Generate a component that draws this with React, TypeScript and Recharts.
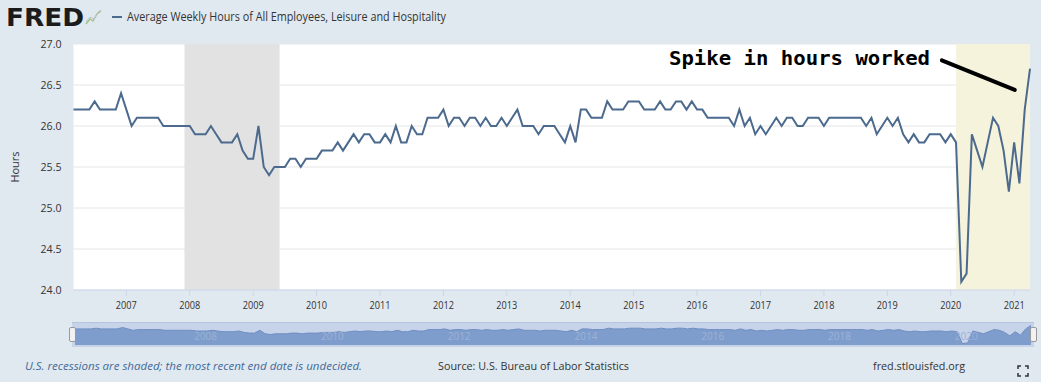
import React from "react";
import {
  LineChart,
  Line,
  XAxis,
  YAxis,
  CartesianGrid,
  ReferenceArea,
  ReferenceLine,
  AreaChart,
  Area,
} from "recharts";

// monthly series, first value is March 2006
const FIRST_YEAR = 2006;
const FIRST_MONTH = 3;

const hours2006 = [26.2, 26.2, 26.2, 26.2, 26.3, 26.2, 26.2, 26.2, 26.2, 26.4];
const hours2007 = [26.2, 26.0, 26.1, 26.1, 26.1, 26.1, 26.1, 26.0, 26.0, 26.0, 26.0, 26.0];
const hours2008 = [26.0, 25.9, 25.9, 25.9, 26.0, 25.9, 25.8, 25.8, 25.8, 25.9, 25.7, 25.6];
const hours2009 = [25.6, 26.0, 25.5, 25.4, 25.5, 25.5, 25.5, 25.6, 25.6, 25.5, 25.6, 25.6];
const hours2010 = [25.6, 25.7, 25.7, 25.7, 25.8, 25.7, 25.8, 25.9, 25.8, 25.9, 25.9, 25.8];
const hours2011 = [25.8, 25.9, 25.8, 26.0, 25.8, 25.8, 26.0, 25.9, 25.9, 26.1, 26.1, 26.1];
const hours2012 = [26.2, 26.0, 26.1, 26.1, 26.0, 26.1, 26.1, 26.0, 26.1, 26.0, 26.0, 26.1];
const hours2013 = [26.0, 26.1, 26.2, 26.0, 26.0, 26.0, 25.9, 26.0, 26.0, 26.0, 25.9, 25.8];
const hours2014 = [26.0, 25.8, 26.2, 26.2, 26.1, 26.1, 26.1, 26.3, 26.2, 26.2, 26.2, 26.3];
const hours2015 = [26.3, 26.3, 26.2, 26.2, 26.2, 26.3, 26.2, 26.2, 26.3, 26.3, 26.2, 26.3];
const hours2016 = [26.2, 26.2, 26.1, 26.1, 26.1, 26.1, 26.1, 26.0, 26.2, 26.0, 26.1, 25.9];
const hours2017 = [26.0, 25.9, 26.0, 26.1, 26.0, 26.1, 26.1, 26.0, 26.0, 26.1, 26.1, 26.1];
const hours2018 = [26.0, 26.1, 26.1, 26.1, 26.1, 26.1, 26.1, 26.1, 26.0, 26.1, 25.9, 26.0];
const hours2019 = [26.1, 26.0, 26.1, 25.9, 25.8, 25.9, 25.8, 25.8, 25.9, 25.9, 25.9, 25.8];
const hours2020 = [25.9, 25.8, 24.1, 24.2, 25.9, 25.7, 25.5, 25.8, 26.1, 26.0, 25.7, 25.2];
const hours2021 = [25.8, 25.3, 26.2, 26.7];

const hours = [
  ...hours2006, ...hours2007, ...hours2008, ...hours2009, ...hours2010, ...hours2011,
  ...hours2012, ...hours2013, ...hours2014, ...hours2015, ...hours2016, ...hours2017,
  ...hours2018, ...hours2019, ...hours2020, ...hours2021,
];

const yearTicks = [2007, 2008, 2009, 2010, 2011, 2012, 2013, 2014, 2015, 2016, 2017, 2018, 2019, 2020, 2021];
const hourTicks = [24, 24.5, 25, 25.5, 26, 26.5, 27];
const navigatorTicks = [2008, 2010, 2012, 2014, 2016, 2018, 2020];

const recessionStarts = ["2007-12", "2020-02"];
const recessionEnds = ["2009-06", null]; // latest one has no end date yet

const toYear = (ym: string) => {
  const [y, m] = ym.split("-").map(Number);
  return y + (m - 1) / 12;
};

const data = hours.map((v, i) => ({
  t: FIRST_YEAR + (FIRST_MONTH - 1 + i) / 12,
  hours: v,
}));
const lastT = data[data.length - 1].t;

const LINE_COLOR = "#4b6a8d";
const FONT = "'Open Sans', 'DejaVu Sans', sans-serif";

const XTick = (props: any) => {
  const { x, y, payload } = props;
  return (
    <text x={x} y={y + 11} textAnchor="middle" fontSize={11} fontFamily={FONT} fill="#333"
      textLength={21} lengthAdjust="spacingAndGlyphs">
      {payload.value}
    </text>
  );
};

const YTick = (props: any) => {
  const { x, y, payload } = props;
  return (
    <text x={x} y={y + 4} textAnchor="end" fontSize={11} fontFamily={FONT} fill="#333"
      textLength={21} lengthAdjust="spacingAndGlyphs">
      {payload.value.toFixed(1)}
    </text>
  );
};

const NavTick = (props: any) => {
  const { x, payload } = props;
  return (
    <text x={x + 3} y={17} fontSize={10} fontFamily={FONT} fill="#9db1d6">
      {payload.value}
    </text>
  );
};

export default function App() {
  return (
    <div style={{ position: "absolute", left: 0, top: 0, width: 1041, height: 382, background: "#e1e9f0", fontFamily: FONT }}>
      <div style={{ position: "absolute", left: 0, top: 0 }}>
        <LineChart width={1041} height={320} data={data} margin={{ top: 44, right: 11, bottom: 0, left: 0 }}>
          <CartesianGrid vertical={false} stroke="#e6e6e6" fill="#ffffff" />
          {recessionStarts.map((s, i) => (
            <ReferenceArea
              key={s}
              x1={toYear(s)}
              x2={recessionEnds[i] ? toYear(recessionEnds[i] as string) : lastT}
              fill={recessionEnds[i] ? "#e2e2e2" : "#f5f3dc"}
              fillOpacity={1}
              ifOverflow="extendDomain"
            />
          ))}
          <XAxis
            dataKey="t"
            type="number"
            domain={["dataMin", "dataMax"]}
            ticks={yearTicks}
            height={30}
            axisLine={{ stroke: "#ccd6eb" }}
            tickLine={{ stroke: "#ccd6eb" }}
            tickSize={6}
            tick={<XTick />}
          />
          <YAxis
            domain={[24, 27]}
            ticks={hourTicks}
            width={73.5}
            axisLine={false}
            tickLine={false}
            tickSize={6}
            tickMargin={6}
            tick={<YTick />}
            label={{
              content: () => (
                <text x={19} y={167} transform="rotate(-90 19 167)" textAnchor="middle"
                  fontSize={11} fontFamily={FONT} fill="#333">
                  Hours
                </text>
              ),
            }}
          />
          <Line
            type="linear"
            dataKey="hours"
            stroke={LINE_COLOR}
            strokeWidth={2}
            dot={false}
            isAnimationActive={false}
          />
          <ReferenceLine
            segment={[{ x: 2019.86, y: 26.8 }, { x: 2021.01, y: 26.44 }]}
            stroke="#000"
            strokeWidth={4}
            strokeLinecap="round"
          />
        </LineChart>
      </div>

      {/* navigator strip */}
      <div style={{ position: "absolute", left: 72, top: 322, width: 962, height: 24, background: "#c6d3e9", borderTop: "1px solid #b5c4df" }}>
        <AreaChart width={962} height={23} data={data} margin={{ top: 1, right: 3, bottom: 0, left: 3 }}>
          <XAxis
            dataKey="t"
            type="number"
            domain={["dataMin", "dataMax"]}
            ticks={navigatorTicks}
            height={1}
            axisLine={false}
            tickLine={false}
            tick={<NavTick />}
          />
          <YAxis domain={[23.9, 26.9]} hide />
          <Area
            type="linear"
            dataKey="hours"
            stroke="#6f8ec2"
            strokeWidth={1}
            fill="#7f9dcc"
            fillOpacity={1}
            isAnimationActive={false}
          />
        </AreaChart>
      </div>
      <div style={{ position: "absolute", left: 69, top: 327, width: 5, height: 13, background: "#f2f2f2", border: "1px solid #999", borderRadius: 2 }} />
      <div style={{ position: "absolute", left: 1030, top: 327, width: 5, height: 13, background: "#f2f2f2", border: "1px solid #999", borderRadius: 2 }} />

      <svg width={1041} height={382} style={{ position: "absolute", left: 0, top: 0, pointerEvents: "none" }}>
        {/* FRED logo */}
        <text x={6} y={26} fontSize={25} fontWeight={900} fontFamily="'DejaVu Sans', sans-serif" fill="#1b1b1b"
          textLength={78} lengthAdjust="spacingAndGlyphs">FRED</text>
        <polyline points="86,24 90,19 93,21 97,14 101,11" fill="none" stroke="#a9c18c" strokeWidth={1.5} />
        <polyline points="86,22 90,17 94,19 98,12 101,10" fill="none" stroke="#b9c4cf" strokeWidth={1} />
        <line x1={112} y1={17} x2={122} y2={17} stroke={LINE_COLOR} strokeWidth={2} />
        <text x={127} y={21} fontSize={12} fontFamily={FONT} fill="#333"
          textLength={319} lengthAdjust="spacingAndGlyphs">
          Average Weekly Hours of All Employees, Leisure and Hospitality
        </text>

        {/* annotation */}
        <text x={669} y={65} fontSize={20} fontWeight="bold" fontFamily="'DejaVu Sans Mono', monospace" fill="#000"
          textLength={261} lengthAdjust="spacingAndGlyphs">
          Spike in hours worked
        </text>

        {/* footer */}
        <text x={25} y={370} fontSize={11.5} fontStyle="italic" fontFamily={FONT} fill="#41699b"
          textLength={337} lengthAdjust="spacingAndGlyphs">
          U.S. recessions are shaded; the most recent end date is undecided.
        </text>
        <text x={438} y={370} fontSize={11.5} fontFamily={FONT} fill="#333"
          textLength={191} lengthAdjust="spacingAndGlyphs">
          Source: U.S. Bureau of Labor Statistics
        </text>
        <text x={873} y={370} fontSize={11.5} fontFamily={FONT} fill="#333"
          textLength={92} lengthAdjust="spacingAndGlyphs">
          fred.stlouisfed.org
        </text>
        <path d="M1018 369 v-3 h3 M1025 366 h3 v3 M1028 373 v3 h-3 M1021 376 h-3 v-3"
          fill="none" stroke="#333" strokeWidth={1.5} />
      </svg>
    </div>
  );
}
